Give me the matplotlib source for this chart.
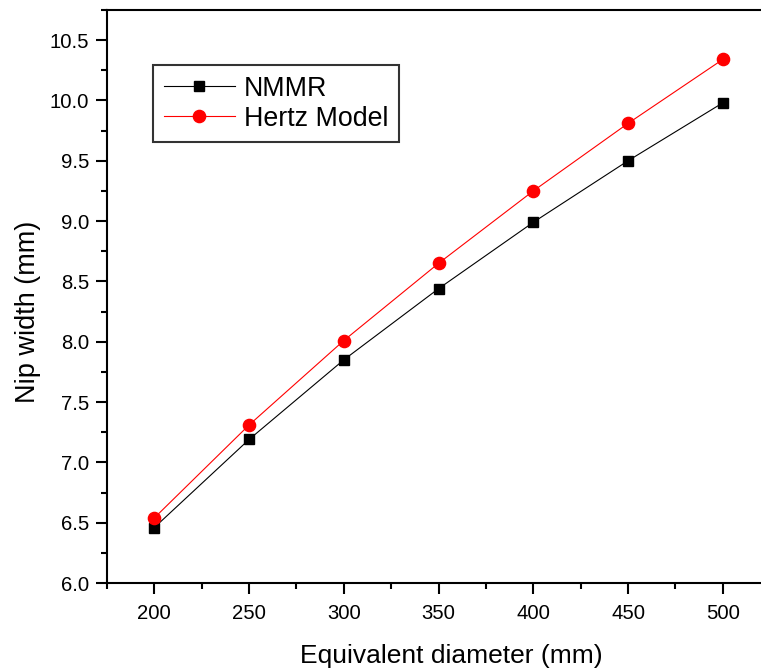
import matplotlib
matplotlib.use("Agg")
import matplotlib.pyplot as plt
from matplotlib.ticker import MultipleLocator

plt.rcParams['font.family'] = ['Liberation Sans', 'DejaVu Sans']

diameter = [200, 250, 300, 350, 400, 450, 500]
nmmr = [6.46, 7.19, 7.85, 8.44, 8.99, 9.50, 9.98]
hertz = [6.54, 7.31, 8.01, 8.65, 9.25, 9.81, 10.34]

fig = plt.figure(figsize=(7.61, 6.71), dpi=100)
ax = fig.add_axes([107/761, 88/671, 1 - 107/761 + 0.002, (583 - 10)/671])

ax.plot(diameter, nmmr, color='black', lw=0.8, marker='s', ms=7.7,
        mec='black', mfc='black', label='NMMR')
ax.plot(diameter, hertz, color='red', lw=0.8, marker='o', ms=8.8,
        mec='red', mfc='red', label='Hertz Model')

ax.set_xlim(175, 521)
ax.set_ylim(6.0, 10.75)
ax.xaxis.set_major_locator(MultipleLocator(50))
ax.xaxis.set_minor_locator(MultipleLocator(25))
ax.yaxis.set_major_locator(MultipleLocator(0.5))
ax.yaxis.set_minor_locator(MultipleLocator(0.25))
ax.yaxis.set_major_formatter(matplotlib.ticker.FormatStrFormatter('%.1f'))

for s in ['left', 'bottom', 'top']:
    ax.spines[s].set_linewidth(1.5)
ax.spines['right'].set_visible(False)

ax.tick_params(which='major', direction='out', length=7.9, width=1.5, labelsize=14.6)
ax.tick_params(which='minor', direction='out', length=4.3, width=1.5)
ax.tick_params(axis='x', which='major', pad=7.5)
ax.tick_params(axis='y', which='major', pad=5)
ax.tick_params(top=False, right=False)

ax.set_xlabel('Equivalent diameter (mm)', fontsize=19, labelpad=15)
ax.set_ylabel('Nip width (mm)', fontsize=19.5, labelpad=6)
ax.xaxis.label.set_x(0.526)
ax.yaxis.label.set_y(0.473)

leg = ax.legend(loc='upper left', bbox_to_anchor=((153 - 107)/654, (583 - 65)/573),
                fontsize=19.3, frameon=True, fancybox=False, edgecolor='black',
                handlelength=2.65, handletextpad=0.35, borderpad=0.4,
                labelspacing=0.15, borderaxespad=0)
leg.get_frame().set_linewidth(1.5)

fig.savefig('out.png', dpi=100)
